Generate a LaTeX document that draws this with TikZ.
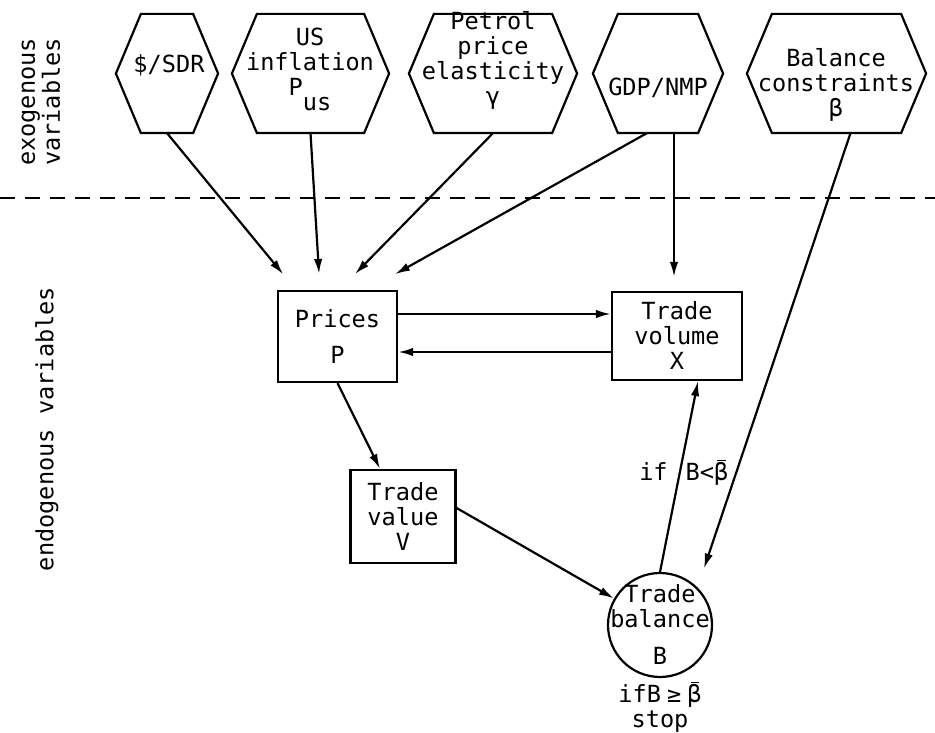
\documentclass[tikz,border=0pt]{standalone}
\usepackage{fontspec}
\setmainfont{DejaVu Sans Mono}
\usetikzlibrary{arrows.meta,positioning}
\newcommand\betabar{\leavevmode\rlap{\hspace{1.6pt}\raisebox{9.6pt}{\rule{4.2pt}{0.6pt}}}β}

\begin{document}
\begin{tikzpicture}[
    x=0.5pt, y=-0.5pt,
    line width=1.1pt,
    txt/.style={align=center, font=\fontsize{11.8pt}{12.5pt}\selectfont, inner sep=0pt},
    hexa/.style={rectangle, minimum height=58.5pt, inner sep=0pt},
    box/.style={rectangle, draw, inner sep=0pt, txt},
    arr/.style={-{Latex[length=7.5pt,width=4.2pt]}}
]
\useasboundingbox (0,0) rectangle (935,732);

% exogenous variables
\node[hexa, minimum width=50pt] (sdr) at (167,73.5) {};
\node[hexa, minimum width=77.5pt] (usinf) at (310.5,73.5) {};
\node[hexa, minimum width=83pt] (petrol) at (493,73.5) {};
\node[hexa, minimum width=64pt] (gdp) at (658,73.5) {};
\node[hexa, minimum width=88.5pt] (balc) at (836.5,73.5) {};
\foreach \h in {sdr,usinf,petrol,gdp,balc}
  \draw (\h.west) -- ([xshift=12.5pt]\h.north west) -- ([xshift=-12.5pt]\h.north east)
    -- (\h.east) -- ([xshift=-12.5pt]\h.south east) -- ([xshift=12.5pt]\h.south west) -- cycle;

\node[txt] (sdrtxt) at (169,65) {\$/SDR};
\node[txt] (usinftxt) at (310,69) {US\\inflation\\P\raisebox{-7.5pt}{us}};
\node[txt] (petroltxt) at (493,60) {Petrol\\price\\elasticity\\γ};
\node[txt] (gdptxt) at (658,88) {GDP/NMP};
\node[txt] (balctxt) at (836,85) {Balance\\constraints\\β};

\coordinate (divl) at (0,198);
\coordinate (divr) at (935,198);
\draw[dash pattern=on 7.5pt off 5pt, line width=1.2pt] (divl) -- (divr);

\node[txt, rotate=90] (exo) at (41,102) {exogenous\\variables};
\node[txt, rotate=90] (endo) at (47,429) {endogenous variables};

% endogenous variables
\node[box, minimum width=59.5pt, minimum height=45.5pt] (prices) at (337.5,336.5) {Prices\\[5.5pt]P};
\node[box, minimum width=65pt, minimum height=44pt] (tvol) at (677,336) {Trade\\volume\\X};
\node[box, minimum width=52.5pt, minimum height=46.5pt] (tval) at (403,516.5) {Trade\\value\\V};
\node[circle, draw, minimum size=52pt, inner sep=0pt] (bal) at (660,625) {};
\node[txt] (baltxt) at (bal.center) {Trade\\balance\\[6pt]B};
\node[txt] (stopnote) at (660,707) {ifB\hspace{3pt}≥\hspace{3pt}\betabar\\stop};

\draw[arr, shorten >=10pt] (sdr.south) -- ([xshift=-20.75pt]prices.north);
\draw[arr, shorten >=8pt] (usinf.south) -- ([xshift=-8.75pt]prices.north);
\draw[arr, shorten >=11pt] (petrol.south) -- ([xshift=1pt]prices.north);
\draw[arr, shorten >=16pt] ([xshift=-5.5pt]gdp.south) -- ([xshift=14.75pt]prices.north);
\draw[arr, shorten >=7pt] ([xshift=8pt]gdp.south) -- ([xshift=8pt]gdp.south |- tvol.north);
\draw[arr, shorten >=10pt] ([xshift=7pt]balc.south) -- (bal.45);

\draw[arr] ([yshift=11.25pt]prices.east) -- ([yshift=11.25pt]prices.east -| tvol.west);
\draw[arr] ([yshift=-8pt]tvol.west) -- ([yshift=-8pt]tvol.west -| prices.east);
\draw[arr] (prices.south) -- ([xshift=-11.5pt]tval.north);
\draw[arr] ([yshift=4.25pt]tval.east) -- (bal);
\draw[arr] (bal.north) -- ([xshift=10.5pt]tvol.south)
  node[txt, pos=0.52, xshift=2pt] (cond) {if\hspace{9pt}B<\betabar};
\end{tikzpicture}
\end{document}
